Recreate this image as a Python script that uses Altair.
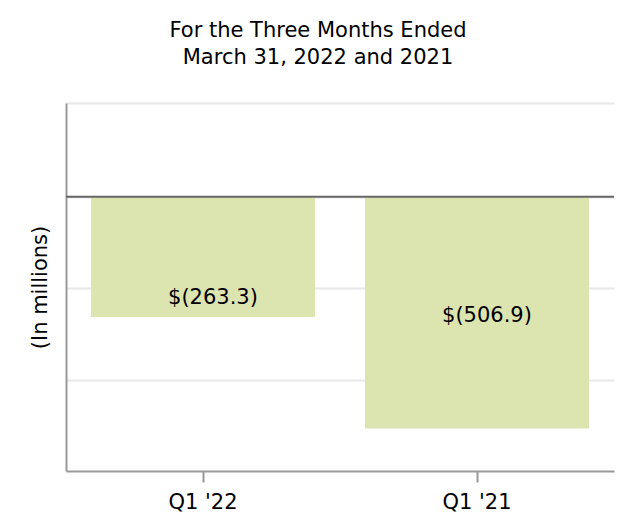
import altair as alt
import pandas as pd

quarters = ["Q1 '22", "Q1 '21"]
values = [-263.3, -506.9]
labels = ["$(263.3)", "$(506.9)"]
label_anchor = [-222, -260]
grid_values = [-400, -200, 0, 205]
title_lines = ["For the Three Months Ended", "March 31, 2022 and 2021"]

df = pd.DataFrame({"quarter": quarters, "value": values, "label": labels, "label_y": label_anchor})
zero_df = pd.DataFrame({"zero": [0]})

FONT = "DejaVu Sans"
FS = 21
yscale = alt.Scale(domain=[-600, 205], nice=False, zero=False)
xscale = alt.Scale(domain=quarters, paddingInner=0.1825, paddingOuter=0.09125)

base = alt.Chart(df)

bars = base.mark_bar(color="#dce4b0").encode(
    x=alt.X("quarter:N", scale=xscale, sort=quarters,
            axis=alt.Axis(title=None, labelAngle=0, labelFontSize=FS, labelColor="#000",
                          labelFont=FONT, domainColor="#999", domainWidth=2,
                          tickColor="#999", tickWidth=2, tickSize=11, labelPadding=9,
                          grid=False)),
    y=alt.Y("value:Q", scale=yscale,
            axis=alt.Axis(title="(In millions)", values=grid_values, labels=False, ticks=False,
                          grid=True, gridColor="#e8e8e8", gridWidth=2,
                          domainColor="#999", domainWidth=2, titleFontSize=FS,
                          titleFont=FONT, titleFontWeight="normal", titleColor="#000",
                          titlePadding=16)),
)

zero_rule = alt.Chart(zero_df).mark_rule(color="#666", strokeWidth=2).encode(
    y=alt.Y("zero:Q", scale=yscale)
)

text = base.mark_text(fontSize=FS, font=FONT, color="#000", dx=10, baseline="middle").encode(
    x=alt.X("quarter:N", scale=xscale, sort=quarters),
    y=alt.Y("label_y:Q", scale=yscale),
    text="label:N",
)

chart = alt.layer(bars, zero_rule, text).properties(
    width=548,
    height=368,
    padding={"left": 58, "top": 95, "right": 12, "bottom": 53},
    autosize=alt.AutoSizeParams(type="none"),
    title=alt.TitleParams(text=title_lines, fontSize=FS, font=FONT, fontWeight="normal",
                          color="#000", anchor="middle", frame="group", dx=-22,
                          lineHeight=27, offset=35),
).configure_view(stroke=None)

chart.save("out.html", embed_options={"renderer": "svg", "actions": False})
